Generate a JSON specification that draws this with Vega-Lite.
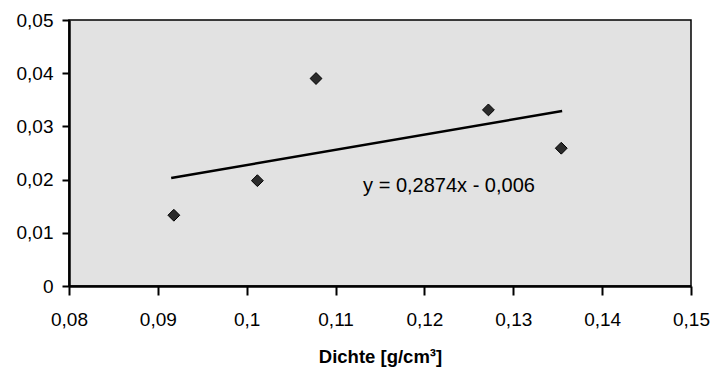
{
  "$schema": "https://vega.github.io/schema/vega-lite/v6.json",
  "width": 622,
  "height": 266,
  "autosize": "none",
  "padding": {"left": 69, "top": 20, "right": 29, "bottom": 86},
  "background": "white",
  "config": {
    "view": {"fill": "#e2e2e2", "stroke": "black", "strokeWidth": 1.5},
    "font": "Liberation Sans",
    "axis": {"grid": false, "domainColor": "black", "domainWidth": 2.5, "tickColor": "black", "labelColor": "black", "labelFontSize": 19, "titleColor": "black"}
  },
  "datasets": {
    "pts": [
      {"x": 0.0918, "y": 0.0133},
      {"x": 0.1012, "y": 0.0198},
      {"x": 0.1078, "y": 0.0390},
      {"x": 0.1272, "y": 0.0331},
      {"x": 0.1354, "y": 0.0259}
    ],
    "trend": [
      {"x": 0.0915, "y": 0.0203},
      {"x": 0.1355, "y": 0.0329}
    ],
    "eq": [
      {"x": 0.1131, "y": 0.01767, "label": "y = 0,2874x - 0,006"}
    ]
  },
  "layer": [
    {
      "data": {"name": "pts"},
      "mark": {"type": "point", "shape": "diamond", "filled": true, "size": 140, "color": "#2b2b2b", "stroke": "black", "strokeWidth": 1, "opacity": 1},
      "encoding": {
        "x": {"field": "x", "type": "quantitative", "scale": {"domain": [0.08, 0.15], "nice": false, "zero": false},
          "axis": {"orient": "bottom", "values": [0.08,0.09,0.1,0.11,0.12,0.13,0.14,0.15], "labelExpr": "replace(format(datum.value, '.2~f'), '.', ',')", "labelFlush": false, "labelOverlap": false, "tickSize": 9, "tickWidth": 2, "labelBaseline": "alphabetic", "labelPadding": 30, "title": "Dichte [g/cm³]", "titleFontSize": 18.5, "titleFontWeight": "bold", "titleBaseline": "alphabetic", "titleY": 76}},
        "y": {"field": "y", "type": "quantitative", "scale": {"domain": [0, 0.05], "nice": false},
          "axis": {"orient": "left", "values": [0,0.01,0.02,0.03,0.04,0.05], "labelExpr": "replace(format(datum.value, '.2~f'), '.', ',')", "labelFlush": false, "labelOverlap": false, "tickSize": 7, "tickWidth": 2, "labelPadding": 9, "title": null}}
      }
    },
    {
      "data": {"name": "trend"},
      "mark": {"type": "line", "color": "black", "strokeWidth": 2.5},
      "encoding": {
        "x": {"field": "x", "type": "quantitative"},
        "y": {"field": "y", "type": "quantitative"}
      }
    },
    {
      "data": {"name": "eq"},
      "mark": {"type": "text", "align": "left", "baseline": "alphabetic", "fontSize": 20, "color": "black"},
      "encoding": {
        "x": {"field": "x", "type": "quantitative"},
        "y": {"field": "y", "type": "quantitative"},
        "text": {"field": "label"}
      }
    }
  ]
}
